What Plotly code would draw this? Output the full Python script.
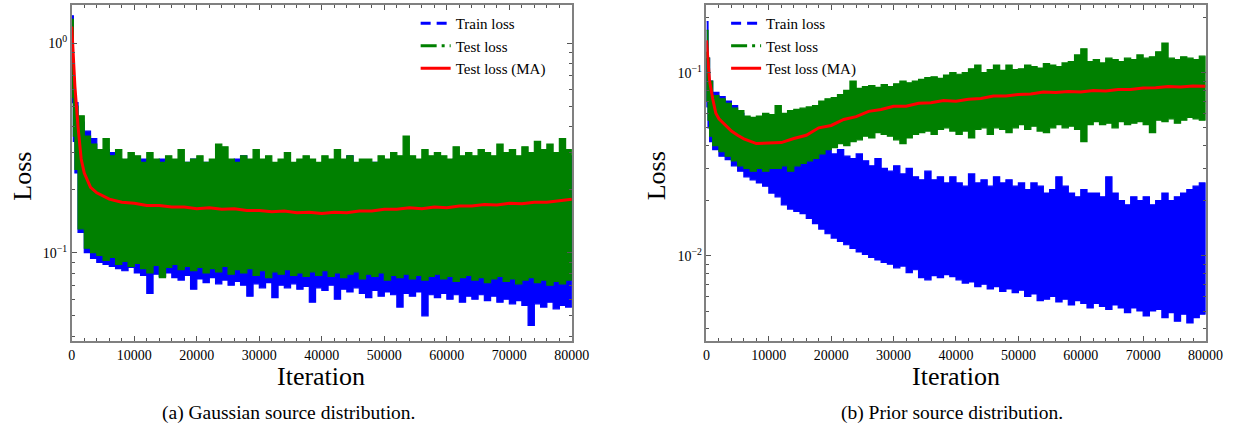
import math
import plotly.graph_objects as go

# ---------------- data ----------------
iters = [0, 250, 500] + list(range(1000, 80001, 1000))
ma_iters = [0, 500, 1000, 1500, 2000, 3000, 4000, 5000, 6000, 8000] + list(range(10000, 80001, 2000))

# (a) Gaussian source distribution: upper / lower envelopes of the noisy curves
train_hi_a = [1.35, 0.65, 0.52,
              0.42, 0.38, 0.35, 0.30, 0.31, 0.30, 0.28, 0.27, 0.28, 0.27,
              0.28, 0.26, 0.27, 0.28, 0.26, 0.27, 0.26, 0.27, 0.28, 0.26,
              0.27, 0.26, 0.27, 0.26, 0.27, 0.28, 0.29, 0.26, 0.27, 0.26,
              0.27, 0.26, 0.25, 0.27, 0.26, 0.27, 0.26, 0.25, 0.26, 0.27,
              0.26, 0.25, 0.27, 0.29, 0.26, 0.25, 0.26, 0.27, 0.26, 0.27,
              0.26, 0.25, 0.26, 0.27, 0.26, 0.25, 0.26, 0.27, 0.26, 0.27,
              0.28, 0.26, 0.27, 0.26, 0.27, 0.28, 0.27, 0.26, 0.28, 0.27,
              0.28, 0.27, 0.28, 0.27, 0.29, 0.28, 0.27, 0.28, 0.29, 0.28]
train_lo_a = [1.05, 0.52, 0.34,
              0.24, 0.125, 0.100, 0.094, 0.090, 0.088, 0.086, 0.084, 0.082, 0.085,
              0.080, 0.078, 0.064, 0.079, 0.077, 0.080, 0.076, 0.074, 0.078, 0.067,
              0.075, 0.072, 0.076, 0.071, 0.074, 0.070, 0.073, 0.070, 0.062, 0.071,
              0.068, 0.072, 0.061, 0.070, 0.068, 0.071, 0.067, 0.069, 0.058, 0.068,
              0.066, 0.070, 0.060, 0.067, 0.065, 0.068, 0.064, 0.061, 0.066, 0.062,
              0.065, 0.063, 0.055, 0.064, 0.062, 0.065, 0.050, 0.063, 0.061, 0.064,
              0.060, 0.063, 0.058, 0.062, 0.060, 0.063, 0.059, 0.062, 0.058, 0.060,
              0.057, 0.059, 0.056, 0.045, 0.057, 0.055, 0.058, 0.054, 0.056, 0.055]
test_hi_a = [1.30, 0.62, 0.50,
             0.45, 0.36, 0.33, 0.31, 0.35, 0.29, 0.31, 0.28, 0.30, 0.29,
             0.27, 0.30, 0.28, 0.27, 0.29, 0.28, 0.31, 0.27, 0.28, 0.29,
             0.27, 0.28, 0.33, 0.32, 0.28, 0.27, 0.29, 0.28, 0.31, 0.28,
             0.29, 0.27, 0.28, 0.30, 0.27, 0.28, 0.29, 0.28, 0.27, 0.29,
             0.28, 0.31, 0.28, 0.29, 0.27, 0.28, 0.28, 0.27, 0.29, 0.28,
             0.30, 0.29, 0.36, 0.29, 0.28, 0.31, 0.29, 0.30, 0.29, 0.28,
             0.32, 0.29, 0.30, 0.29, 0.31, 0.30, 0.29, 0.33, 0.30, 0.31,
             0.29, 0.32, 0.30, 0.34, 0.31, 0.33, 0.30, 0.35, 0.31, 0.30]
test_lo_a = [1.10, 0.55, 0.36,
             0.25, 0.13, 0.105, 0.100, 0.097, 0.092, 0.095, 0.088, 0.091, 0.086,
             0.089, 0.084, 0.080, 0.087, 0.076, 0.085, 0.088, 0.083, 0.086, 0.082,
             0.085, 0.080, 0.084, 0.081, 0.086, 0.079, 0.083, 0.080, 0.084, 0.078,
             0.082, 0.076, 0.081, 0.079, 0.083, 0.078, 0.080, 0.077, 0.081, 0.078,
             0.082, 0.077, 0.080, 0.076, 0.079, 0.081, 0.075, 0.079, 0.077, 0.080,
             0.074, 0.078, 0.076, 0.079, 0.075, 0.078, 0.074, 0.077, 0.079, 0.075,
             0.077, 0.073, 0.076, 0.078, 0.074, 0.076, 0.072, 0.075, 0.077, 0.073,
             0.075, 0.071, 0.074, 0.076, 0.072, 0.074, 0.070, 0.073, 0.071, 0.074]
test_ma_a = [1.20, 0.62, 0.40, 0.28, 0.24, 0.205, 0.193, 0.186, 0.180, 0.174,
             0.172, 0.168, 0.168, 0.165, 0.165, 0.162, 0.164, 0.161, 0.162, 0.159,
             0.159, 0.157, 0.158, 0.155, 0.156, 0.154, 0.156, 0.155, 0.158, 0.158,
             0.161, 0.161, 0.164, 0.162, 0.165, 0.164, 0.167, 0.167, 0.170, 0.169,
             0.172, 0.171, 0.174, 0.174, 0.177, 0.180]

# (b) Prior source distribution
train_hi_b = [0.19, 0.12, 0.09,
              0.078, 0.074, 0.070, 0.066, 0.060, 0.055, 0.052, 0.050, 0.048, 0.047,
              0.046, 0.045, 0.044, 0.043, 0.042, 0.041, 0.040, 0.039, 0.040, 0.036,
              0.038, 0.035, 0.034, 0.036, 0.033, 0.031, 0.034, 0.030, 0.029, 0.031,
              0.028, 0.030, 0.027, 0.026, 0.029, 0.026, 0.027, 0.025, 0.027, 0.025,
              0.024, 0.028, 0.025, 0.026, 0.024, 0.027, 0.025, 0.026, 0.024, 0.025,
              0.023, 0.025, 0.024, 0.022, 0.023, 0.027, 0.024, 0.022, 0.021, 0.023,
              0.022, 0.022, 0.021, 0.027, 0.022, 0.020, 0.019, 0.021, 0.020, 0.021,
              0.019, 0.020, 0.022, 0.020, 0.021, 0.022, 0.023, 0.024, 0.025, 0.024]
train_lo_b = [0.12, 0.065, 0.05,
              0.042, 0.038, 0.035, 0.0335, 0.031, 0.029, 0.027, 0.026, 0.025, 0.024,
              0.022, 0.021, 0.019, 0.018, 0.0175, 0.017, 0.016, 0.015, 0.014, 0.0132,
              0.0125, 0.012, 0.0115, 0.011, 0.0105, 0.0102, 0.0098, 0.0095, 0.0092, 0.0090,
              0.0086, 0.0088, 0.0081, 0.0084, 0.0076, 0.0074, 0.0078, 0.0076, 0.0079, 0.0077,
              0.0074, 0.0071, 0.0072, 0.0068, 0.0070, 0.0066, 0.0068, 0.0064, 0.0066, 0.0063,
              0.0065, 0.0060, 0.0062, 0.0057, 0.0058, 0.0060, 0.0056, 0.0058, 0.0054, 0.0057,
              0.0055, 0.0052, 0.0055, 0.0053, 0.0051, 0.0054, 0.0052, 0.0049, 0.0052, 0.0050,
              0.0047, 0.0050, 0.0051, 0.0046, 0.0049, 0.0044, 0.0048, 0.0043, 0.0046, 0.0048]
test_hi_b = [0.17, 0.12, 0.09,
             0.075, 0.072, 0.068, 0.064, 0.062, 0.058, 0.057, 0.058, 0.060, 0.059,
             0.066, 0.060, 0.062, 0.063, 0.064, 0.065, 0.066, 0.070, 0.072, 0.073,
             0.076, 0.080, 0.090, 0.082, 0.084, 0.085, 0.083, 0.086, 0.084, 0.087,
             0.090, 0.088, 0.090, 0.092, 0.094, 0.095, 0.093, 0.097, 0.100, 0.098,
             0.100, 0.105, 0.110, 0.100, 0.104, 0.110, 0.103, 0.110, 0.104, 0.105,
             0.110, 0.108, 0.106, 0.112, 0.110, 0.108, 0.113, 0.115, 0.125, 0.135,
             0.115, 0.118, 0.113, 0.120, 0.118, 0.115, 0.120, 0.118, 0.125, 0.120,
             0.122, 0.130, 0.145, 0.120, 0.118, 0.122, 0.120, 0.118, 0.123, 0.120]
test_lo_b = [0.13, 0.07, 0.055,
             0.045, 0.040, 0.037, 0.035, 0.033, 0.031, 0.030, 0.029, 0.030, 0.029,
             0.030, 0.030, 0.031, 0.029, 0.031, 0.032, 0.033, 0.034, 0.036, 0.038,
             0.039, 0.041, 0.040, 0.042, 0.043, 0.045, 0.044, 0.047, 0.046, 0.045,
             0.043, 0.041, 0.044, 0.046, 0.047, 0.048, 0.046, 0.049, 0.050, 0.048,
             0.046, 0.048, 0.044, 0.049, 0.050, 0.046, 0.050, 0.049, 0.047, 0.050,
             0.052, 0.049, 0.051, 0.048, 0.047, 0.050, 0.052, 0.050, 0.051, 0.049,
             0.042, 0.052, 0.054, 0.052, 0.053, 0.050, 0.054, 0.052, 0.053, 0.054,
             0.052, 0.047, 0.055, 0.054, 0.056, 0.053, 0.055, 0.057, 0.056, 0.055]
test_ma_b = [0.150, 0.090, 0.072, 0.060, 0.056, 0.052, 0.048, 0.0455, 0.0435, 0.041,
             0.0412, 0.0415, 0.0437, 0.0455, 0.0500, 0.0515, 0.0555, 0.0575, 0.0615, 0.0630,
             0.0655, 0.0655, 0.0680, 0.0685, 0.0705, 0.0698, 0.0715, 0.0722, 0.0745, 0.0745,
             0.0760, 0.0765, 0.0785, 0.0780, 0.0790, 0.0785, 0.0800, 0.0795, 0.0810, 0.0808,
             0.0825, 0.0828, 0.0840, 0.0836, 0.0845, 0.0842]

x_tick_vals = [0, 10000, 20000, 30000, 40000, 50000, 60000, 70000, 80000]
x_tick_labels = ["0", "10000", "20000", "30000", "40000", "50000", "60000", "70000", "80000"]
y_tick_vals_a = [0.1, 1]
y_tick_labels_a = ["10<sup>\u22121</sup>", "10<sup>0</sup>"]
y_tick_vals_b = [0.01, 0.1]
y_tick_labels_b = ["10<sup>\u22122</sup>", "10<sup>\u22121</sup>"]
series_names = ["Train loss", "Test loss", "Test loss (MA)"]
captions = ["(a) Gaussian source distribution.", "(b) Prior source distribution."]

for arr in (train_hi_a, train_lo_a, test_hi_a, test_lo_a, train_hi_b, train_lo_b, test_hi_b, test_lo_b):
    assert len(arr) == len(iters), len(arr)
assert len(test_ma_a) == len(ma_iters) and len(test_ma_b) == len(ma_iters)

# ---------------- style ----------------
BLUE, GREEN, RED = "#0000ff", "#008000", "#ff0000"
SERIF = "Liberation Serif"
W, H = 1254, 435
FRAME = "#808080"

fig = go.Figure()


def band(xa, ya, hi, lo, color):
    fig.add_trace(go.Scatter(
        x=iters + iters[::-1], y=hi + lo[::-1], xaxis=xa, yaxis=ya,
        mode="lines", fill="toself", fillcolor=color,
        line=dict(color=color, width=1.2, shape="hv"),
        showlegend=False, hoverinfo="skip"))


for xa, ya, lg, thi, tlo, shi, slo, ma in (
        ("x", "y", "legend", train_hi_a, train_lo_a, test_hi_a, test_lo_a, test_ma_a),
        ("x2", "y2", "legend2", train_hi_b, train_lo_b, test_hi_b, test_lo_b, test_ma_b)):
    band(xa, ya, thi, tlo, BLUE)
    band(xa, ya, shi, slo, GREEN)
    fig.add_trace(go.Scatter(x=ma_iters, y=ma, xaxis=xa, yaxis=ya, mode="lines",
                             line=dict(color=RED, width=3), showlegend=False, hoverinfo="skip"))
    # legend entries
    for name, color, dash in ((series_names[0], BLUE, "10px,6px"),
                              (series_names[1], GREEN, "16px,5px,3px,5px"),
                              (series_names[2], RED, "solid")):
        fig.add_trace(go.Scatter(x=[None], y=[None], xaxis=xa, yaxis=ya, mode="lines",
                                 name=name, legend=lg,
                                 line=dict(color=color, width=3, dash=dash)))


def px_x(p):
    return p / W


def px_y(p):
    return 1 - p / H


minor_log = [k * 10 ** e for e in (-3, -2, -1, 0) for k in range(2, 10)]

common_x = dict(range=[0, 80000], tickmode="array", tickvals=x_tick_vals, ticktext=x_tick_labels,
                ticks="inside", ticklen=5, tickwidth=1, tickcolor="#555",
                minor=dict(dtick=2000, tick0=0, ticks="inside", ticklen=3, tickcolor="#555"),
                showline=True, linecolor=FRAME, linewidth=1.5, mirror="allticks",
                showgrid=False, zeroline=False,
                tickfont=dict(family=SERIF, size=14, color="black"))
common_y = dict(type="log", tickmode="array",
                ticks="inside", ticklen=5, tickwidth=1, tickcolor="#555",
                minor=dict(tickmode="array", tickvals=minor_log, ticks="inside", ticklen=3, tickcolor="#555"),
                showline=True, linecolor=FRAME, linewidth=1.5, mirror="allticks",
                showgrid=False, zeroline=False,
                tickfont=dict(family=SERIF, size=14, color="black"))

fig.update_layout(
    width=W, height=H, margin=dict(l=0, r=0, t=0, b=0),
    paper_bgcolor="white", plot_bgcolor="white",
    xaxis=dict(domain=[px_x(69), px_x(578)], anchor="y", **common_x),
    yaxis=dict(domain=[px_y(341), px_y(5)], anchor="x",
               range=[math.log10(0.0379), math.log10(1.52)],
               tickvals=y_tick_vals_a, ticktext=y_tick_labels_a, **common_y),
    xaxis2=dict(domain=[px_x(715), px_x(1223)], anchor="y2", **common_x),
    yaxis2=dict(domain=[px_y(341), px_y(5)], anchor="x2",
                range=[math.log10(0.00343), math.log10(0.234)],
                tickvals=y_tick_vals_b, ticktext=y_tick_labels_b, **common_y),
    legend=dict(x=px_x(419), y=px_y(7), xanchor="left", yanchor="top",
                bgcolor="rgba(0,0,0,0)", font=dict(family=SERIF, size=15, color="black"),
                itemwidth=30),
    legend2=dict(x=px_x(735), y=px_y(7), xanchor="left", yanchor="top",
                 bgcolor="rgba(0,0,0,0)", font=dict(family=SERIF, size=15, color="black"),
                 itemwidth=30),
    showlegend=True,
)

annotations = [
    dict(text="Loss", x=px_x(18), y=px_y(176), textangle=-90),
    dict(text="Loss", x=px_x(664), y=px_y(176), textangle=-90),
    dict(text="Iteration", x=px_x(323), y=px_y(376)),
    dict(text="Iteration", x=px_x(969), y=px_y(376)),
]
for a in annotations:
    fig.add_annotation(xref="paper", yref="paper", showarrow=False, xanchor="center", yanchor="middle",
                       font=dict(family=SERIF, size=26, color="black"), **a)
for cap, cx in zip(captions, (290, 965)):
    fig.add_annotation(text=cap, xref="paper", yref="paper", x=px_x(cx), y=px_y(413),
                       xanchor="center", yanchor="middle", showarrow=False,
                       font=dict(family=SERIF, size=19.5, color="black"))

fig.write_html("out.html")
